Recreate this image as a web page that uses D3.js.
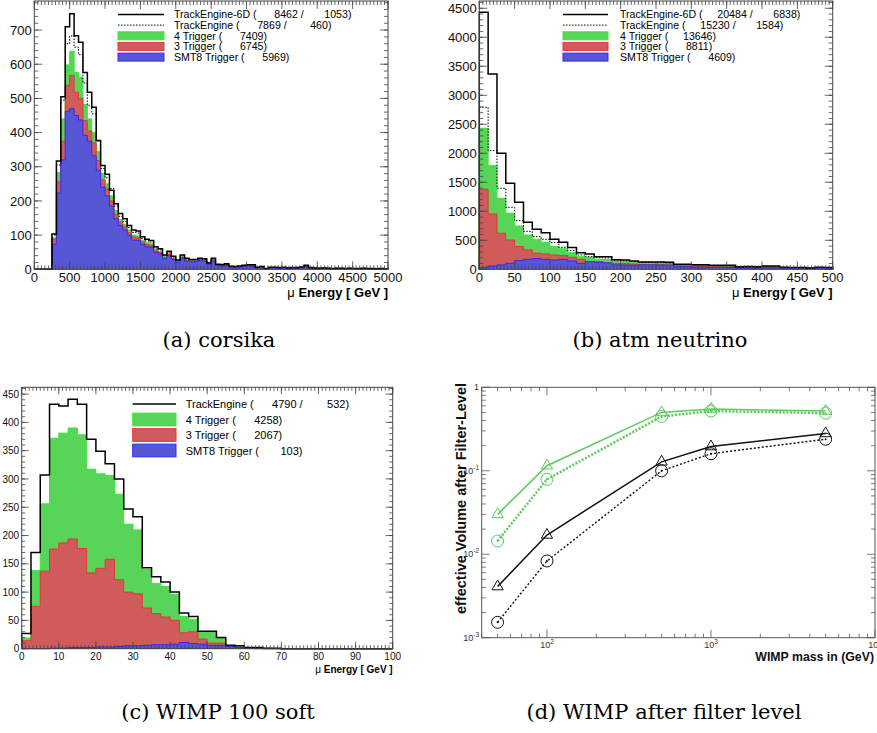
<!DOCTYPE html>
<html><head><meta charset="utf-8">
<script src="https://cdn.jsdelivr.net/npm/d3@7"></script>
<style>
body{margin:0;background:#fff;}
svg{display:block;background:#fff;}
text{font-family:"Liberation Sans",Arial,Helvetica,sans-serif;}
.cap{font-family:"DejaVu Serif",serif;}
.pre{white-space:pre;}
</style></head><body>
<svg id="chart" width="877" height="733"></svg>
<script>
// ================= DATA =================
// (a) corsika: 80 bins of 62.5 GeV, 0..5000
const corsikaBinWidth = 62.5;
const corsikaTE6D = [0,0,0,0,
103,317,505,710,748,683,664,576,518,474,
377,304,278,231,192,163,148,128,115,112,
95,88,84,66,60,42,53,38,27,42,
32,29,29,32,31,19,32,15,14,16,
9,8,10,12,13,13,6,8,2,6,
6,5,6,4,5,5,7,12,5,4,
3,4,3,2,3,3,2,3,2,2,
3,2,2,1,2,1];
const corsikaTE = [0,0,0,0,
100,305,495,660,683,650,628,545,480,455,
375,295,268,236,185,155,140,122,108,106,
90,83,80,62,57,40,50,36,26,40,
30,28,28,30,29,18,30,14,13,15,
8,8,9,11,12,12,6,7,2,5,
6,5,5,4,5,4,6,11,4,4,
3,4,3,2,3,3,2,3,2,2,
3,2,2,1,2,1];
const corsika4Trig = [0,0,0,0,
92,283,440,598,638,576,562,482,440,400,
345,280,250,215,172,145,132,115,100,98,
85,78,75,58,52,37,46,33,24,37,
28,26,26,29,27,17,28,13,12,14,
8,7,9,10,11,11,5,7,2,5,
5,4,5,4,4,4,6,10,4,3,
3,3,3,2,3,2,2,3,2,2,
2,2,2,1,2,1];
const corsika3Trig = [0,0,0,0,
88,256,375,538,567,518,500,435,405,370,
318,262,235,200,160,138,124,108,94,92,
80,73,70,54,49,34,43,31,22,35,
26,24,24,27,25,16,26,12,11,13,
7,7,8,9,10,10,5,6,2,4,
5,4,4,3,4,4,5,10,4,3,
3,3,2,2,3,2,2,2,2,2,
2,2,1,1,2,1];
const corsikaSMT8 = [0,0,0,0,
74,223,320,462,470,450,437,392,375,332,
290,240,215,185,148,128,115,100,85,85,
73,66,65,50,45,31,40,29,20,33,
24,22,22,25,24,15,24,11,10,12,
6,6,7,8,9,9,4,6,2,4,
4,3,4,3,4,3,5,9,3,3,
2,3,2,2,2,2,2,2,2,1,
2,2,1,1,1,1];
const corsikaCounts = [[8462,1053],[7869,460],[7409],[6745],[5969]];
const corsikaXTicks = [0,500,1000,1500,2000,2500,3000,3500,4000,4500,5000];
const corsikaYTicks = [0,100,200,300,400,500,600,700];

// (b) atm neutrino: 40 bins of 12.5 GeV, 0..500
const atmBinWidth = 12.5;
const atmTE6D = [4431,3368,2000,1483,1155,810,690,632,517,466,374,287,264,218,215,165,160,145,128,126,125,120,88,85,80,78,70,68,68,45,48,44,58,55,35,33,32,22,35,30];
const atmTE   = [2793,2046,1397,1069,839,655,563,517,460,379,322,247,218,200,195,150,148,135,118,116,115,110,80,78,74,72,64,62,62,42,44,40,52,50,32,30,29,20,32,28];
const atm4Trig = [2431,1787,1224,966,747,592,517,466,391,356,287,218,207,172,170,135,132,120,108,106,104,100,72,70,66,64,58,56,55,38,40,36,46,44,28,27,26,18,28,25];
const atm3Trig = [1379,954,621,506,391,333,276,264,247,236,207,172,132,132,110,100,98,90,82,80,78,75,55,52,50,48,45,42,40,30,30,28,35,33,22,20,20,14,22,20];
const atmSMT8  = [29,57,75,103,149,172,184,172,161,172,144,103,132,115,112,76,74,69,75,76,74,72,47,45,35,34,33,35,34,24,23,22,25,24,22,23,22,18,24,22];
const atmCounts = [[20484,6838],[15230,1584],[13646],[8811],[4609]];
const atmXTicks = [0,50,100,150,200,250,300,350,400,450,500];
const atmYTicks = [0,500,1000,1500,2000,2500,3000,3500,4000,4500];

// (c) WIMP 100 soft: 40 bins of 2.5 GeV, 0..100
const wimpBinWidth = 2.5;
const wimpTE    = [27,170,307,432,429,441,432,370,349,327,300,247,233,143,127,118,100,63,57,31,31,20,6,5,2,2,1,1,0,0,0,0,0,0,0,0,0,0,0,0];
const wimp4Trig = [19,138,256,372,381,390,378,317,309,306,273,220,210,140,115,110,96,57,52,30,30,18,5,4,2,1,1,0,0,0,0,0,0,0,0,0,0,0,0,0];
const wimp3Trig = [14,75,137,176,187,194,177,134,142,158,122,100,97,72,62,56,50,28,30,17,10,10,5,2,1,0,0,0,0,0,0,0,0,0,0,0,0,0,0,0];
const wimpSMT8  = [0,0,0,1,1,2,2,2,3,3,4,5,5,6,7,7,8,11,9,8,6,6,4,2,1,1,0,0,0,0,0,0,0,0,0,0,0,0,0,0];
const wimpCounts = [[4790,532],[4258],[2067],[103]];
const wimpXTicks = [0,10,20,30,40,50,60,70,80,90,100];
const wimpYTicks = [0,50,100,150,200,250,300,350,400,450];

// (d) WIMP after filter level
const wimpMass = [50,100,500,1000,5000];
const effGreenTriangle = [0.030,0.115,0.50,0.55,0.52];
const effGreenCircle   = [0.0144,0.079,0.447,0.52,0.49];
const effBlackTriangle = [0.0041,0.017,0.128,0.195,0.28];
const effBlackCircle   = [0.00153,0.0083,0.100,0.160,0.239];
const massXTicks = [100,1000,10000];
const effYTicks = [0.001,0.01,0.1,1];

const legendLabels = ["TrackEngine-6D","TrackEngine","4 Trigger","3 Trigger","SMT8 Trigger"];
const wimpLegendLabels = ["TrackEngine","4 Trigger","3 Trigger","SMT8 Trigger"];
const captions = ["(a) corsika","(b) atm neutrino","(c) WIMP 100 soft","(d) WIMP after filter level"];

// ================= STYLE =================
const COL = {
  greenFill:"#58d458", greenLine:"#36e836",
  redFill:"#cf5b5b", redLine:"#e83434",
  blueFill:"#5757d6", blueLine:"#2d2df0",
  frame:"#444", dGreen:"#5ccb5c"
};
const svg = d3.select("#chart");

function pad10(n){ return String(n).padStart(10," "); }
function legendText(label, c){
  return c.length === 2 ? `${label} (${pad10(c[0])} / ${pad10(c[1])})` : `${label} (${pad10(c[0])})`;
}

function stepPoints(values, binW, x, y){
  const pts = [[x(0), y(0)]];
  values.forEach((v,i)=>{ pts.push([x(i*binW), y(v)]); pts.push([x((i+1)*binW), y(v)]); });
  pts.push([x(values.length*binW), y(0)]);
  return pts;
}
function drawFilled(g, values, binW, x, y, fill, stroke){
  const pts = stepPoints(values, binW, x, y);
  g.append("path").attr("d", d3.line()(pts)+"Z").attr("fill", fill).attr("stroke","none");
  g.append("path").attr("d", d3.line()(pts)).attr("fill","none").attr("stroke", stroke).attr("stroke-width",1);
}
function drawLine(g, values, binW, x, y, width, dash){
  const pts = stepPoints(values, binW, x, y);
  const p = g.append("path").attr("d", d3.line()(pts)).attr("fill","none").attr("stroke","#000").attr("stroke-width",width);
  if (dash) p.attr("stroke-dasharray", dash);
}

function drawFrame(g, x, y, o){
  const [x0,x1] = x.range(), [y0,y1] = y.range();
  const tick = (a,b,c,d)=>g.append("line").attr("x1",a).attr("y1",b).attr("x2",c).attr("y2",d)
      .attr("stroke",o.color).attr("stroke-width",0.8);
  o.xMinor.forEach(v=>{ const p=x(v); tick(p,y0,p,y0-o.minLen); tick(p,y1,p,y1+o.minLen); });
  o.xMajor.forEach(v=>{ const p=x(v); tick(p,y0,p,y0-o.majLen); tick(p,y1,p,y1+o.majLen); });
  o.yMinor.forEach(v=>{ const p=y(v); tick(x0,p,x0+o.minLen,p); tick(x1,p,x1-o.minLen,p); });
  o.yMajor.forEach(v=>{ const p=y(v); tick(x0,p,x0+o.majLen,p); tick(x1,p,x1-o.majLen,p); });
  g.append("rect").attr("x",x0).attr("y",y1).attr("width",x1-x0).attr("height",y0-y1)
    .attr("fill","none").attr("stroke",o.color).attr("stroke-width",1);
}
function linLabels(g, x, y, xt, yt, fs, xBase, yGap){
  const [y0] = y.range(), [x0] = x.range();
  xt.forEach(v=>g.append("text").attr("x",x(v)).attr("y",y0+xBase).attr("text-anchor","middle")
     .attr("font-size",fs).attr("fill","#111").text(v));
  yt.forEach(v=>g.append("text").attr("x",x0-yGap).attr("y",y(v)+fs*0.36).attr("text-anchor","end")
     .attr("font-size",fs).attr("fill","#111").text(v));
}
function energyTitle(g, xRight, yBase, fs){
  const t = g.append("text").attr("x",xRight).attr("y",yBase).attr("text-anchor","end").attr("font-size",fs).attr("fill","#000");
  t.append("tspan").text("\u03bc ");
  t.append("tspan").attr("font-weight","bold").text("Energy [ GeV ]");
}
function legend(g, labels, counts, rows, lx0, lx1, tx, boxH, fs, hasDotted){
  const kinds = hasDotted ? ["solid","dotted","g","r","b"] : ["solid","g","r","b"];
  kinds.forEach((k,i)=>{
    const ry = rows[i];
    if (k==="solid") g.append("line").attr("x1",lx0).attr("x2",lx1).attr("y1",ry).attr("y2",ry).attr("stroke","#000").attr("stroke-width",1.5);
    else if (k==="dotted") g.append("line").attr("x1",lx0).attr("x2",lx1).attr("y1",ry).attr("y2",ry).attr("stroke","#000").attr("stroke-width",1).attr("stroke-dasharray","1.5,1.5");
    else {
      const f = {g:[COL.greenFill,COL.greenLine], r:[COL.redFill,COL.redLine], b:[COL.blueFill,COL.blueLine]}[k];
      g.append("rect").attr("x",lx0).attr("y",ry-boxH/2).attr("width",lx1-lx0).attr("height",boxH).attr("fill",f[0]).attr("stroke",f[1]).attr("stroke-width",1);
    }
    g.append("text").attr("class","pre").attr("xml:space","preserve").attr("x",tx).attr("y",ry+fs*0.37)
      .attr("font-size",fs).attr("fill","#000").text(legendText(labels[i], counts[i]));
  });
}
function multiples(step, max){ const a=[]; for(let v=0; v<=max+1e-9; v+=step) a.push(+v.toFixed(6)); return a; }

// ================= PANEL (a) =================
{
  const g = svg.append("g");
  const x = d3.scaleLinear().domain([0,5000]).range([34.3,388]);
  const y = d3.scaleLinear().domain([0,785]).range([269.3,1]);
  drawFilled(g, corsika4Trig, corsikaBinWidth, x, y, COL.greenFill, COL.greenLine);
  drawFilled(g, corsika3Trig, corsikaBinWidth, x, y, COL.redFill, COL.redLine);
  drawFilled(g, corsikaSMT8, corsikaBinWidth, x, y, COL.blueFill, COL.blueLine);
  drawLine(g, corsikaTE, corsikaBinWidth, x, y, 1, "1.5,1.5");
  drawLine(g, corsikaTE6D, corsikaBinWidth, x, y, 1.5, null);
  drawFrame(g, x, y, {color:COL.frame, majLen:8, minLen:4,
    xMajor:corsikaXTicks, xMinor:multiples(50,5000), yMajor:corsikaYTicks, yMinor:multiples(20,780)});
  linLabels(g, x, y, corsikaXTicks, corsikaYTicks, 13, 12.7, 2.5);
  energyTitle(g, 388, 297, 13);
  legend(g, legendLabels, corsikaCounts, [14.5,25.1,35.8,46.4,57.1], 118, 164, 174, 8, 10.6, true);
}
// ================= PANEL (b) =================
{
  const g = svg.append("g");
  const x = d3.scaleLinear().domain([0,500]).range([479.3,832.7]);
  const y = d3.scaleLinear().domain([0,4625]).range([269.3,1]);
  drawFilled(g, atm4Trig, atmBinWidth, x, y, COL.greenFill, COL.greenLine);
  drawFilled(g, atm3Trig, atmBinWidth, x, y, COL.redFill, COL.redLine);
  drawFilled(g, atmSMT8, atmBinWidth, x, y, COL.blueFill, COL.blueLine);
  drawLine(g, atmTE, atmBinWidth, x, y, 1, "1.5,1.5");
  drawLine(g, atmTE6D, atmBinWidth, x, y, 1.5, null);
  drawFrame(g, x, y, {color:COL.frame, majLen:8, minLen:4,
    xMajor:atmXTicks, xMinor:multiples(5,500), yMajor:atmYTicks, yMinor:multiples(100,4600)});
  linLabels(g, x, y, atmXTicks, atmYTicks, 13, 12.7, 2.5);
  energyTitle(g, 832.7, 297, 13);
  legend(g, legendLabels, atmCounts, [14.5,25.1,35.8,46.4,57.1], 563, 608, 620, 8, 10.6, true);
}
// ================= PANEL (c) =================
{
  const g = svg.append("g");
  const x = d3.scaleLinear().domain([0,100]).range([21.7,392.7]);
  const y = d3.scaleLinear().domain([0,462]).range([648.7,387.3]);
  drawFilled(g, wimp4Trig, wimpBinWidth, x, y, COL.greenFill, COL.greenLine);
  drawFilled(g, wimp3Trig, wimpBinWidth, x, y, COL.redFill, COL.redLine);
  drawFilled(g, wimpSMT8, wimpBinWidth, x, y, COL.blueFill, COL.blueLine);
  drawLine(g, wimpTE, wimpBinWidth, x, y, 1.5, null);
  drawFrame(g, x, y, {color:COL.frame, majLen:7, minLen:3.5,
    xMajor:wimpXTicks, xMinor:multiples(1,100), yMajor:wimpYTicks, yMinor:multiples(10,460)});
  linLabels(g, x, y, wimpXTicks, wimpYTicks, 10, 11.5, 2.5);
  energyTitle(g, 392.7, 673, 10);
  legend(g, wimpLegendLabels, wimpCounts, [404,419.5,435,450.5], 132.7, 176, 185.7, 12.7, 11, false);
}
// ================= PANEL (d) =================
{
  const g = svg.append("g");
  const x = d3.scaleLog().domain([40,10000]).range([481.7,875]);
  const y = d3.scaleLog().domain([0.001,1]).range([637.7,387.3]);
  const xMinor = [], yMinor = [];
  [10,100,1000].forEach(d=>{ for(let m=2;m<=9;m++){ const v=m*d; if(v>=40&&v<=10000) xMinor.push(v);} });
  [0.001,0.01,0.1].forEach(d=>{ for(let m=2;m<=9;m++) yMinor.push(m*d); });
  drawFrame(g, x, y, {color:"#555", majLen:8, minLen:4,
    xMajor:massXTicks, xMinor:xMinor, yMajor:effYTicks, yMinor:yMinor});
  const expLabel = (t, v)=>{
    const e = Math.round(Math.log10(v));
    if (e === 0) { t.text("1"); return; }
    t.append("tspan").text("10");
    t.append("tspan").attr("dy",-4).attr("font-size",6.5).text(e);
  };
  massXTicks.forEach(v=>{
    const t = g.append("text").attr("x",x(v)).attr("y",648).attr("text-anchor","middle").attr("font-size",9).attr("fill","#333");
    expLabel(t, v);
  });
  effYTicks.forEach(v=>{
    const t = g.append("text").attr("x",479).attr("y",y(v)+3).attr("text-anchor","end").attr("font-size",9).attr("fill","#333");
    expLabel(t, v);
  });
  g.append("text").attr("transform","translate(465.5,498.5) rotate(-90)").attr("text-anchor","middle")
    .attr("font-size",14.5).attr("font-weight","bold").attr("fill","#111").text("effective Volume after Filter-Level");
  g.append("text").attr("x",874).attr("y",661).attr("text-anchor","end").attr("font-size",12.3)
    .attr("font-weight","bold").attr("fill","#111").text("WIMP mass in (GeV)");

  const series = [
    {v:effGreenTriangle, c:COL.dGreen, w:1.5, dash:null, m:"tri"},
    {v:effGreenCircle, c:COL.dGreen, w:2.5, dash:"2,1.6", m:"circ"},
    {v:effBlackTriangle, c:"#111", w:1.5, dash:null, m:"tri"},
    {v:effBlackCircle, c:"#111", w:1.4, dash:"2,2", m:"circ"}
  ];
  series.forEach(s=>{
    const pts = wimpMass.map((m,i)=>[x(m), y(s.v[i])]);
    const p = g.append("path").attr("d", d3.line()(pts)).attr("fill","none").attr("stroke",s.c).attr("stroke-width",s.w);
    if (s.dash) p.attr("stroke-dasharray", s.dash);
    pts.forEach(pt=>{
      if (s.m === "tri") {
        g.append("path").attr("d", d3.symbol(d3.symbolTriangle, 55)()).attr("transform",`translate(${pt[0]},${pt[1]})`)
          .attr("fill","none").attr("stroke",s.c).attr("stroke-width",1);
      } else {
        g.append("circle").attr("cx",pt[0]).attr("cy",pt[1]).attr("r",6).attr("fill","none").attr("stroke",s.c).attr("stroke-width",1);
        g.append("circle").attr("cx",pt[0]).attr("cy",pt[1]).attr("r",1).attr("fill",s.c);
      }
    });
  });
}
// ================= CAPTIONS =================
const capPos = [[219,347],[660,347],[218,719],[664,719]];
captions.forEach((c,i)=>svg.append("text").attr("class","cap").attr("x",capPos[i][0]).attr("y",capPos[i][1])
  .attr("text-anchor","middle").attr("font-size",21).attr("fill","#000").text(c));
</script>
</body></html>
